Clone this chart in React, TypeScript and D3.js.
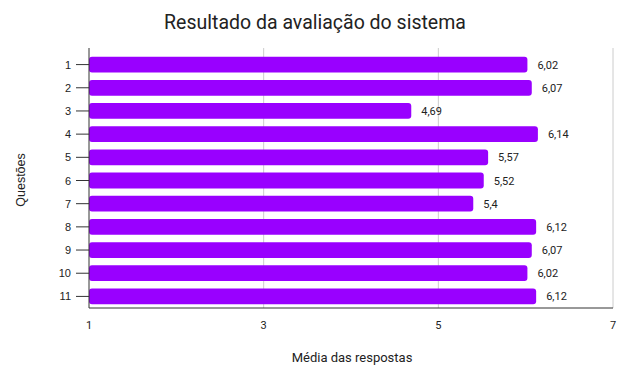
import React from "react";
import * as d3 from "d3";

const questions = ["1", "2", "3", "4", "5", "6", "7", "8", "9", "10", "11"];
const means = [6.02, 6.07, 4.69, 6.14, 5.57, 5.52, 5.4, 6.12, 6.07, 6.02, 6.12];
const xTicks = [1, 3, 5, 7];

const W = 618;
const H = 367;
const margin = { left: 89, right: 5, top: 53, bottom: 59 };

export default function App() {
  const x = d3.scaleLinear().domain([1, 7]).range([margin.left, W - margin.right]);
  const y = d3
    .scaleBand<string>()
    .domain(questions)
    .range([margin.top, H - margin.bottom])
    .paddingInner(0.32)
    .paddingOuter(0.16);

  const bottom = H - margin.bottom;

  return (
    <svg
      width={W}
      height={H}
      style={{ position: "absolute", left: 0, top: 0, background: "#fff" }}
      fontFamily="Roboto, Arial, sans-serif"
    >
      <text x={315} y={29} textAnchor="middle" fontSize={19.5} fill="#222">
        Resultado da avaliação do sistema
      </text>

      {/* grid */}
      {xTicks.slice(1).map((t) => (
        <line key={t} x1={x(t)} x2={x(t)} y1={48} y2={bottom} stroke="#ccc" />
      ))}

      {/* bars */}
      {questions.map((q, i) => (
        <g key={q}>
          <rect
            x={x(1)}
            y={y(q)}
            width={x(means[i]) - x(1)}
            height={y.bandwidth()}
            rx={3}
            fill="#9900ff"
          />
          <text
            x={x(means[i]) + 10}
            y={y(q)! + y.bandwidth() / 2 + 4}
            fontSize={11}
            fill="#222"
          >
            {String(means[i]).replace(".", ",")}
          </text>
          <line
            x1={x(1) - 13}
            x2={x(1)}
            y1={y(q)! + y.bandwidth() / 2}
            y2={y(q)! + y.bandwidth() / 2}
            stroke="#333"
          />
          <text
            x={x(1) - 18}
            y={y(q)! + y.bandwidth() / 2 + 4}
            textAnchor="end"
            fontSize={11}
            fontFamily="Arial, sans-serif"
            fill="#222"
          >
            {q}
          </text>
        </g>
      ))}

      {/* axes */}
      <line x1={x(1)} x2={x(1)} y1={48} y2={bottom} stroke="#333" />
      <line x1={x(1)} x2={x(7)} y1={bottom} y2={bottom} stroke="#333" />
      {xTicks.map((t) => (
        <text key={t} x={x(t)} y={bottom + 21} textAnchor="middle" fontSize={11} fill="#222">
          {t}
        </text>
      ))}

      <text x={352} y={362} textAnchor="middle" fontSize={13} fill="#222">
        Média das respostas
      </text>
      <text
        transform={`translate(25, ${(48 + bottom) / 2 + 2}) rotate(-90)`}
        textAnchor="middle"
        fontSize={12.5}
        fontFamily="Arial, sans-serif"
        fill="#222"
      >
        Questões
      </text>
    </svg>
  );
}
